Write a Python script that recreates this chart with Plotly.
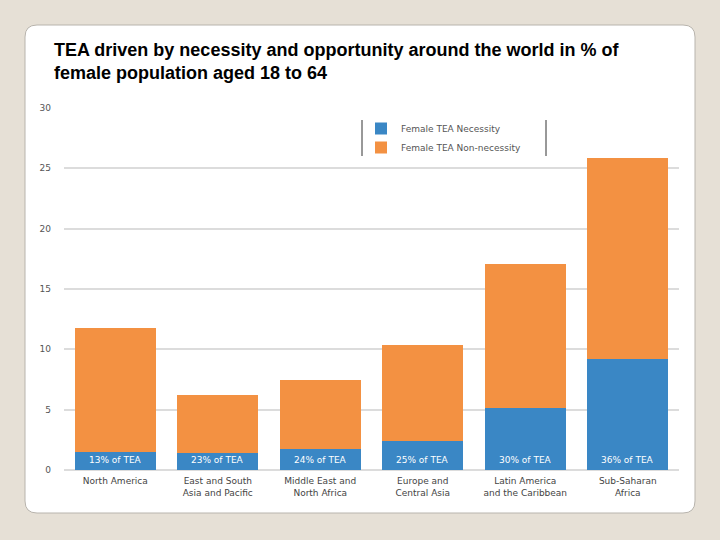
import plotly.graph_objects as go

regions = ["North America", "East and South<br>Asia and Pacific", "Middle East and<br>North Africa",
           "Europe and<br>Central Asia", "Latin America<br>and the Caribbean", "Sub-Saharan<br>Africa"]
necessity = [1.5, 1.45, 1.75, 2.4, 5.1, 9.2]
total = [11.8, 6.2, 7.45, 10.4, 17.1, 25.85]
non_necessity = [t - n for t, n in zip(total, necessity)]
share_labels = ["13% of TEA", "23% of TEA", "24% of TEA", "25% of TEA", "30% of TEA", "36% of TEA"]
y_ticks = [0, 5, 10, 15, 20, 25, 30]

W, H = 720, 540
L, R, T, B = 64, 679, 108, 470

def px(x):
    return (x - L) / (R - L)

def py(y):
    return (B - y) / (B - T)

BLUE = "#3a87c5"
ORANGE = "#f39142"
FONT = "DejaVu Sans"

fig = go.Figure()
fig.add_trace(go.Bar(x=regions, y=necessity, name="Female TEA Necessity",
                     marker=dict(color=BLUE, line=dict(width=0))))
fig.add_trace(go.Bar(x=regions, y=non_necessity, name="Female TEA Non-necessity",
                     marker=dict(color=ORANGE, line=dict(width=0))))

# card with rounded corners
x0, y0, x1, y1, r = 25, 25, 695, 513, 12
path = (f"M {px(x0+r)},{py(y0)} L {px(x1-r)},{py(y0)} Q {px(x1)},{py(y0)} {px(x1)},{py(y0+r)} "
        f"L {px(x1)},{py(y1-r)} Q {px(x1)},{py(y1)} {px(x1-r)},{py(y1)} "
        f"L {px(x0+r)},{py(y1)} Q {px(x0)},{py(y1)} {px(x0)},{py(y1-r)} "
        f"L {px(x0)},{py(y0+r)} Q {px(x0)},{py(y0)} {px(x0+r)},{py(y0)} Z")
shapes = [dict(type="path", path=path, xref="paper", yref="paper", fillcolor="white",
               line=dict(color="#b8b4ad", width=1), layer="below")]
# legend side rules
for lx in (362, 546):
    shapes.append(dict(type="line", xref="paper", yref="paper", x0=px(lx), x1=px(lx),
                       y0=py(120), y1=py(156), line=dict(color="#333", width=1)))

annotations = [dict(text="<b>TEA driven by necessity and opportunity around the world in % of<br>female population aged 18 to 64</b>",
                    xref="paper", yref="paper", x=px(52), y=py(38), xanchor="left", yanchor="top",
                    align="left", showarrow=False,
                    font=dict(family="Liberation Sans", size=18, color="black"))]
for reg, lab in zip(regions, share_labels):
    annotations.append(dict(text=lab, x=reg, y=0.85, xref="x", yref="y", showarrow=False,
                            font=dict(family=FONT, size=9, color="white")))

fig.update_layout(
    width=W, height=H,
    margin=dict(l=L, r=W - R, t=T, b=H - B, pad=0),
    paper_bgcolor="#e6e0d6", plot_bgcolor="rgba(0,0,0,0)",
    barmode="stack", bargap=0.21,
    showlegend=True,
    legend=dict(x=px(361), y=py(114), xanchor="left", yanchor="top", traceorder="normal",
                bgcolor="rgba(0,0,0,0)", font=dict(family=FONT, size=9, color="#555"),
                itemwidth=30, tracegroupgap=0),
    shapes=shapes, annotations=annotations,
    xaxis=dict(showgrid=False, showline=False, ticks="", ticklabelstandoff=4,
               tickfont=dict(family=FONT, size=9, color="#444")),
    yaxis=dict(range=[0, 30], tickvals=y_ticks, showgrid=True, gridcolor="#dcdcdc", gridwidth=2,
               zeroline=True, zerolinecolor="#dcdcdc", zerolinewidth=2, ticks="",
               ticklabelstandoff=12,
               tickfont=dict(family=FONT, size=9, color="#555")),
)
fig.write_html("out.html")
